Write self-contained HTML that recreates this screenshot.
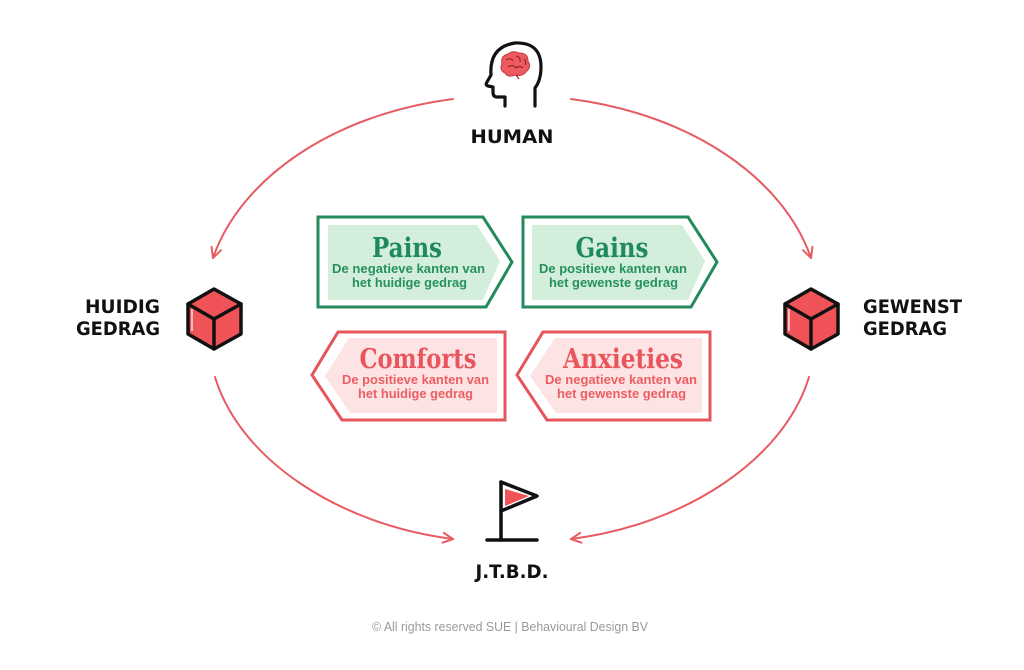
<!DOCTYPE html>
<html>
<head>
<meta charset="utf-8">
<style>
  html,body{margin:0;padding:0;background:#fff;}
  svg{display:block;}
</style>
</head>
<body>
<svg width="1024" height="670" viewBox="0 0 1024 670" xmlns="http://www.w3.org/2000/svg">
  <defs>
    <marker id="ah" viewBox="0 0 12 12" refX="11" refY="6" markerWidth="12" markerHeight="12" markerUnits="userSpaceOnUse" orient="auto">
      <path d="M1,1 L11,6 L1,11" fill="none" stroke="#e65c62" stroke-width="2" stroke-linecap="round" stroke-linejoin="round"/>
    </marker>
  </defs>
  <rect width="1024" height="670" fill="#fff"/>

  <!-- arcs -->
  <g fill="none" stroke="#e65c62" stroke-width="2" stroke-linecap="round">
    <path d="M453,99 C330,115 240,180 213,258" marker-end="url(#ah)"/>
    <path d="M571,99 C694,115 784,180 811,258" marker-end="url(#ah)"/>
    <path d="M215,377 C240,460 340,525 453,539" marker-end="url(#ah)"/>
    <path d="M809,377 C784,460 684,525 571,539" marker-end="url(#ah)"/>
  </g>

  <!-- human head icon -->
  <path d="M505,106 L505,97 L497,97 Q493,97 493,92 L493,87 L488,86 Q485,85 487,82 L491,75 Q489,47 515,43 Q541,42 541,67 Q541,80 535,88 L535,106" fill="none" stroke="#111" stroke-width="3.2" stroke-linejoin="round" stroke-linecap="round"/>
  <g>
    <path d="M502,64 Q500,56 508,54 Q513,50 519,53 Q528,53 528,61 Q532,67 526,72 Q522,77 515,75 Q508,78 505,73 Q499,70 502,64 Z" fill="#ee5a5f" stroke="#c23a40" stroke-width="1"/>
    <path d="M506,60 Q511,57 513,61 M516,56 Q521,57 520,62 M508,67 Q513,64 516,68 Q520,65 523,68 M516,75 L519,79 M524,59 Q527,62 525,65" fill="none" stroke="#8e2328" stroke-width="1.1"/>
  </g>

  <text x="512" y="143" text-anchor="middle" font-family="'DejaVu Sans', 'Liberation Sans', sans-serif" font-weight="bold" font-size="19" fill="#111" textLength="83" lengthAdjust="spacingAndGlyphs">HUMAN</text>

  <!-- left label + cube -->
  <text x="160" y="313" text-anchor="end" font-family="'DejaVu Sans', 'Liberation Sans', sans-serif" font-weight="bold" font-size="19" fill="#111" textLength="75" lengthAdjust="spacingAndGlyphs">HUIDIG</text>
  <text x="160" y="335" text-anchor="end" font-family="'DejaVu Sans', 'Liberation Sans', sans-serif" font-weight="bold" font-size="19" fill="#111" textLength="84" lengthAdjust="spacingAndGlyphs">GEDRAG</text>
  <g stroke="#111" stroke-width="3.5" stroke-linejoin="round" stroke-linecap="round">
    <path d="M214,289 L241,304 L241,334 L214,349 L188,334 L188,304 Z" fill="#ef5358"/>
    <path d="M188,304 L214,319 L241,304 M214,319 L214,349" fill="none"/>
  </g>
  <path d="M192,309 L192,331" stroke="#fff" stroke-width="1.5" opacity="0.8"/>

  <!-- right label + cube -->
  <text x="863" y="313" font-family="'DejaVu Sans', 'Liberation Sans', sans-serif" font-weight="bold" font-size="19" fill="#111" textLength="99" lengthAdjust="spacingAndGlyphs">GEWENST</text>
  <text x="863" y="335" font-family="'DejaVu Sans', 'Liberation Sans', sans-serif" font-weight="bold" font-size="19" fill="#111" textLength="84" lengthAdjust="spacingAndGlyphs">GEDRAG</text>
  <g stroke="#111" stroke-width="3.5" stroke-linejoin="round" stroke-linecap="round">
    <path d="M811,289 L838,304 L838,334 L811,349 L785,334 L785,304 Z" fill="#ef5358"/>
    <path d="M785,304 L811,319 L838,304 M811,319 L811,349" fill="none"/>
  </g>
  <path d="M789,309 L789,331" stroke="#fff" stroke-width="1.5" opacity="0.8"/>

  <!-- flag -->
  <path d="M505,489 L529,496 L505,506 Z" fill="#ef5358"/>
  <g stroke="#111" stroke-width="3.5" stroke-linecap="round" stroke-linejoin="round" fill="none">
    <path d="M501,482 L537,496 L501,511"/>
    <path d="M501,482 L501,540"/>
    <path d="M487,540 L537,540"/>
  </g>
  <text x="512" y="578" text-anchor="middle" font-family="'DejaVu Sans', 'Liberation Sans', sans-serif" font-weight="bold" font-size="19" fill="#111" textLength="73" lengthAdjust="spacingAndGlyphs">J.T.B.D.</text>

  <!-- Pains -->
  <path d="M318,217 L483,217 L512,262 L486,307 L318,307 Z" fill="#fff" stroke="#238a5c" stroke-width="3" stroke-linejoin="miter"/>
  <path d="M328,225 L477,225 L500,261 L483,300 L328,300 Z" fill="#d4eedc"/>
  <text x="407" y="257" text-anchor="middle" font-family="'DejaVu Serif', 'Liberation Serif', serif" font-weight="bold" font-size="27" fill="#1f8a5b" textLength="70" lengthAdjust="spacingAndGlyphs">Pains</text>
  <text x="408.5" y="273" text-anchor="middle" font-family="'Liberation Sans', sans-serif" font-weight="600" font-size="13" fill="#24915f" textLength="153" lengthAdjust="spacingAndGlyphs">De negatieve kanten van</text>
  <text x="409.5" y="287" text-anchor="middle" font-family="'Liberation Sans', sans-serif" font-weight="600" font-size="13" fill="#24915f" textLength="115" lengthAdjust="spacingAndGlyphs">het huidige gedrag</text>

  <!-- Gains -->
  <path d="M523,217 L688,217 L717,262 L691,307 L523,307 Z" fill="#fff" stroke="#238a5c" stroke-width="3" stroke-linejoin="miter"/>
  <path d="M532,225 L682,225 L705,261 L688,300 L532,300 Z" fill="#d4eedc"/>
  <text x="612" y="257" text-anchor="middle" font-family="'DejaVu Serif', 'Liberation Serif', serif" font-weight="bold" font-size="27" fill="#1f8a5b" textLength="73" lengthAdjust="spacingAndGlyphs">Gains</text>
  <text x="613" y="273" text-anchor="middle" font-family="'Liberation Sans', sans-serif" font-weight="600" font-size="13" fill="#24915f" textLength="148" lengthAdjust="spacingAndGlyphs">De positieve kanten van</text>
  <text x="613.5" y="287" text-anchor="middle" font-family="'Liberation Sans', sans-serif" font-weight="600" font-size="13" fill="#24915f" textLength="129" lengthAdjust="spacingAndGlyphs">het gewenste gedrag</text>

  <!-- Comforts -->
  <path d="M338,332 L505,332 L505,420 L342,420 L312,375 Z" fill="#fff" stroke="#e5555b" stroke-width="3" stroke-linejoin="miter"/>
  <path d="M349,338 L497,338 L497,413 L350,413 L325,376 Z" fill="#fde3e3"/>
  <text x="418" y="368" text-anchor="middle" font-family="'DejaVu Serif', 'Liberation Serif', serif" font-weight="bold" font-size="27" fill="#e8555c" textLength="117" lengthAdjust="spacingAndGlyphs">Comforts</text>
  <text x="415.5" y="384" text-anchor="middle" font-family="'Liberation Sans', sans-serif" font-weight="600" font-size="13" fill="#eb5e63" textLength="147" lengthAdjust="spacingAndGlyphs">De positieve kanten van</text>
  <text x="415.5" y="398" text-anchor="middle" font-family="'Liberation Sans', sans-serif" font-weight="600" font-size="13" fill="#eb5e63" textLength="115" lengthAdjust="spacingAndGlyphs">het huidige gedrag</text>

  <!-- Anxieties -->
  <path d="M543,332 L710,332 L710,420 L547,420 L517,375 Z" fill="#fff" stroke="#e5555b" stroke-width="3" stroke-linejoin="miter"/>
  <path d="M555,338 L702,338 L702,413 L556,413 L530,376 Z" fill="#fde3e3"/>
  <text x="623" y="368" text-anchor="middle" font-family="'DejaVu Serif', 'Liberation Serif', serif" font-weight="bold" font-size="27" fill="#e8555c" textLength="120" lengthAdjust="spacingAndGlyphs">Anxieties</text>
  <text x="621" y="384" text-anchor="middle" font-family="'Liberation Sans', sans-serif" font-weight="600" font-size="13" fill="#eb5e63" textLength="152" lengthAdjust="spacingAndGlyphs">De negatieve kanten van</text>
  <text x="621.5" y="398" text-anchor="middle" font-family="'Liberation Sans', sans-serif" font-weight="600" font-size="13" fill="#eb5e63" textLength="129" lengthAdjust="spacingAndGlyphs">het gewenste gedrag</text>

  <!-- footer -->
  <text x="510" y="631" text-anchor="middle" font-family="'Liberation Sans', sans-serif" font-size="12.5" fill="#9a9a9a" textLength="276" lengthAdjust="spacingAndGlyphs">© All rights reserved SUE | Behavioural Design BV</text>
</svg>
</body>
</html>
